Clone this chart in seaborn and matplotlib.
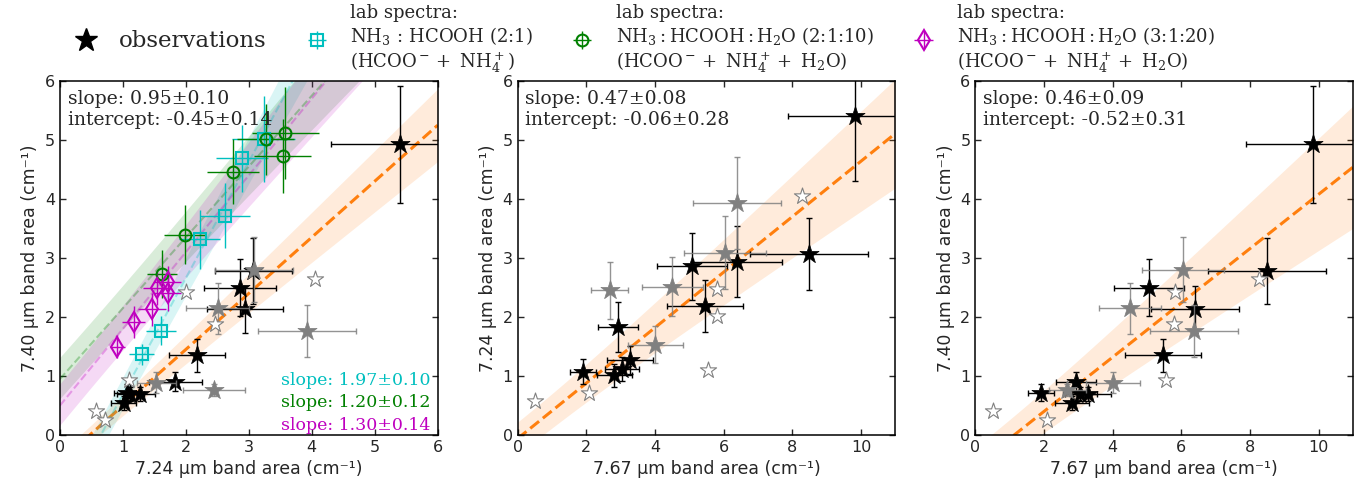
import matplotlib
matplotlib.use("Agg")
import matplotlib.pyplot as plt
from matplotlib.lines import Line2D
import numpy as np
import seaborn as sns

# observed band areas (cm-1) at 7.67, 7.24 and 7.40 um
# black: detections
det_767 = [9.84, 8.49, 6.40, 5.07, 5.46, 2.93, 1.90, 2.82, 3.04, 3.28]
det_724 = [5.40, 3.07, 2.94, 2.86, 2.18, 1.83, 1.07, 1.01, 1.12, 1.27]
det_740 = [4.93, 2.78, 2.13, 2.50, 1.35, 0.90, 0.72, 0.54, 0.69, 0.69]
det_767_err = [1.97, 1.72, 1.29, 1.02, 1.10, 0.59, 0.38, 0.50, 0.50, 0.67]
det_724_err = [1.09, 0.61, 0.60, 0.57, 0.44, 0.42, 0.21, 0.20, 0.21, 0.24]
det_740_err = [0.99, 0.56, 0.40, 0.49, 0.28, 0.16, 0.14, 0.12, 0.12, 0.12]

# gray: tentative
tent_767 = [2.68, 4.51, 4.01, 6.04, 6.38]
tent_724 = [2.45, 2.51, 1.53, 3.09, 3.93]
tent_740 = [0.76, 2.15, 0.89, 2.80, 1.76]
tent_767_err = [0.54, 0.90, 0.80, 1.20, 1.28]
tent_724_err = [0.49, 0.50, 0.31, 0.62, 0.78]
tent_740_err = [0.10, 0.43, 0.17, 0.55, 0.44]

# open: no error estimate
open_767 = [0.50, 2.08, 5.55, 5.82, 5.80, 8.27]
open_724 = [0.58, 0.71, 1.10, 2.01, 2.47, 4.05]
open_740 = [0.41, 0.26, 0.94, 2.42, 1.89, 2.65]

# lab spectra (7.24 vs 7.40 um)
lab21_x = [1.30, 1.60, 2.22, 2.62, 2.89, 3.24]
lab21_y = [1.37, 1.77, 3.32, 3.72, 4.69, 5.01]
lab21_xerr = [0.20, 0.24, 0.33, 0.40, 0.41, 0.50]
lab21_yerr = [0.18, 0.25, 0.50, 0.55, 0.57, 0.73]

lab10_x = [1.62, 1.99, 2.75, 3.27, 3.58, 3.54]
lab10_y = [2.73, 3.39, 4.46, 5.01, 5.12, 4.73]
lab10_xerr = [0.24, 0.33, 0.41, 0.45, 0.53, 0.45]
lab10_yerr = [0.40, 0.50, 0.55, 0.60, 0.78, 0.62]

lab20_x = [0.91, 1.17, 1.46, 1.54, 1.71, 1.71]
lab20_y = [1.50, 1.92, 2.13, 2.49, 2.60, 2.40]
lab20_xerr = [0.12, 0.18, 0.22, 0.22, 0.21, 0.22]
lab20_yerr = [0.20, 0.27, 0.28, 0.28, 0.27, 0.30]

# fits: slope, slope err, intercept, intercept err
obs_fits = [(0.95, 0.10, -0.45, 0.14), (0.47, 0.08, -0.06, 0.28), (0.46, 0.09, -0.52, 0.31)]
lab_fits = [(1.97, 0.10, -1.28, 0.25), (1.20, 0.12, 0.95, 0.35), (1.30, 0.14, 0.50, 0.35)]

sns.set_style("ticks", {"xtick.direction": "in", "ytick.direction": "in",
                        "xtick.top": True, "ytick.right": True})
plt.rcParams["font.family"] = ["DejaVu Sans"]
plt.rcParams["mathtext.fontset"] = "dejavuserif"
serif = "DejaVu Serif"
orange = "#ff7f0e"


def draw_fit(ax, xmax, fit, color, band_alpha, line_alpha, lw, z):
    slope, e_slope, icpt, e_icpt = fit
    xs = np.linspace(0, xmax, 200)
    yfit = slope * xs + icpt
    err = np.sqrt((xs * e_slope) ** 2 + e_icpt ** 2)
    ax.fill_between(xs, yfit - err, yfit + err, color=color, alpha=band_alpha, lw=0, zorder=z)
    ax.plot(xs, yfit, ls="--", color=color, alpha=line_alpha, lw=lw, zorder=z + 0.1)


def draw_obs(ax, x, y, xe, ye, gx, gy, gxe, gye, ox, oy):
    ax.errorbar(x, y, xerr=xe, yerr=ye, fmt="none", ecolor="k", elinewidth=1,
                capsize=2.5, capthick=1, zorder=3)
    sns.scatterplot(x=x, y=y, marker="*", s=210, color="k", edgecolor="k",
                    linewidth=0.5, ax=ax, legend=False, zorder=4)
    ax.errorbar(gx, gy, xerr=gxe, yerr=gye, fmt="none", ecolor="0.5", elinewidth=1,
                capsize=2.5, capthick=1, alpha=0.85, zorder=5)
    sns.scatterplot(x=gx, y=gy, marker="*", s=210, color="0.5", edgecolor="0.5",
                    linewidth=0.5, ax=ax, legend=False, zorder=6)
    sns.scatterplot(x=ox, y=oy, marker="*", s=150, color="white", edgecolor="0.5",
                    linewidth=0.8, ax=ax, legend=False, zorder=6)


fig, axes = plt.subplots(1, 3, figsize=(13.69, 4.9), dpi=100)
fig.subplots_adjust(left=0.0438, right=0.9883, bottom=0.1122, top=0.8347, wspace=0.212)

label = "{} \u03bcm band area (cm\u207b\u00b9)"

# panel 1: 7.24 vs 7.40
ax = axes[0]
draw_fit(ax, 6, obs_fits[0], orange, 0.15, 1.0, 2.2, 1)
for fit, c in zip(lab_fits, ["c", "g", "m"]):
    draw_fit(ax, 6, fit, c, 0.15, 0.3, 1.5, 1.5)
draw_obs(ax, det_724, det_740, det_724_err, det_740_err,
         tent_724, tent_740, tent_724_err, tent_740_err, open_724, open_740)
h21 = ax.errorbar(lab21_x, lab21_y, xerr=lab21_xerr, yerr=lab21_yerr, fmt="s", color="c",
                  mfc="none", ms=8.5, mew=1.5, elinewidth=1, zorder=7)
h10 = ax.errorbar(lab10_x, lab10_y, xerr=lab10_xerr, yerr=lab10_yerr, fmt="o", color="g",
                  mfc="none", ms=8.5, mew=1.5, elinewidth=1, zorder=7)
h20 = ax.errorbar(lab20_x, lab20_y, xerr=lab20_xerr, yerr=lab20_yerr, fmt="d", color="m",
                  mfc="none", ms=10, mew=1.5, elinewidth=1, zorder=7)
ax.set_xlim(0, 6)
ax.set_ylim(0, 6)
ax.set_xticks(range(0, 7))
ax.set_xlabel(label.format("7.24"), fontsize=12.5)
ax.set_ylabel(label.format("7.40"), fontsize=12.5)
for i, (fit, c) in enumerate(zip(lab_fits, ["c", "g", "m"])):
    ax.text(0.98, 0.004 + (2 - i) * 0.063, "slope: {:.2f}\u00b1{:.2f}".format(fit[0], fit[1]),
            transform=ax.transAxes, ha="right", va="bottom", color=c,
            family=serif, fontsize=12.5, zorder=10)

# panel 2: 7.67 vs 7.24
ax = axes[1]
draw_fit(ax, 11, obs_fits[1], orange, 0.15, 1.0, 2.2, 1)
draw_obs(ax, det_767, det_724, det_767_err, det_724_err,
         tent_767, tent_724, tent_767_err, tent_724_err, open_767, open_724)
ax.set_xlim(0, 11)
ax.set_ylim(0, 6)
ax.set_xticks(range(0, 11, 2))
ax.set_xlabel(label.format("7.67"), fontsize=12.5)
ax.set_ylabel(label.format("7.24"), fontsize=12.5)

# panel 3: 7.67 vs 7.40
ax = axes[2]
draw_fit(ax, 11, obs_fits[2], orange, 0.15, 1.0, 2.2, 1)
draw_obs(ax, det_767, det_740, det_767_err, det_740_err,
         tent_767, tent_740, tent_767_err, tent_740_err, open_767, open_740)
ax.set_xlim(0, 11)
ax.set_ylim(0, 6)
ax.set_xticks(range(0, 11, 2))
ax.set_xlabel(label.format("7.67"), fontsize=12.5)
ax.set_ylabel(label.format("7.40"), fontsize=12.5)

for ax, fit in zip(axes, obs_fits):
    ax.set_yticks(range(0, 7))
    ax.tick_params(direction="in", top=True, right=True, length=4, width=1, labelsize=11.5)
    for sp in ax.spines.values():
        sp.set_linewidth(1.1)
        sp.set_color("k")
    ax.text(0.02, 0.975, "slope: {:.2f}\u00b1{:.2f}\nintercept: {:.2f}\u00b1{:.2f}".format(*fit),
            transform=ax.transAxes, ha="left", va="top", family=serif, fontsize=13.5,
            linespacing=1.25, zorder=10)

obs_handle = Line2D([], [], marker="*", color="k", ls="none", ms=17)
labels = ["observations",
          "lab spectra:\nNH$_3\\,:\\,$HCOOH (2:1)\n(HCOO$^- +$ NH$_4^+$)",
          "lab spectra:\nNH$_3:$HCOOH$:$H$_2$O (2:1:10)\n(HCOO$^- +$ NH$_4^+ +$ H$_2$O)",
          "lab spectra:\nNH$_3:$HCOOH$:$H$_2$O (3:1:20)\n(HCOO$^- +$ NH$_4^+ +$ H$_2$O)"]
leg = fig.legend([obs_handle, h21, h10, h20], labels, loc="upper left",
                 bbox_to_anchor=(0.041, 1.025), ncol=4, frameon=False,
                 prop={"family": serif, "size": 13}, columnspacing=2.0,
                 handletextpad=1.1, handlelength=1.5, labelspacing=0.2)
leg.get_texts()[0].set_fontsize(16.5)

fig.savefig("out.png", dpi=100)
